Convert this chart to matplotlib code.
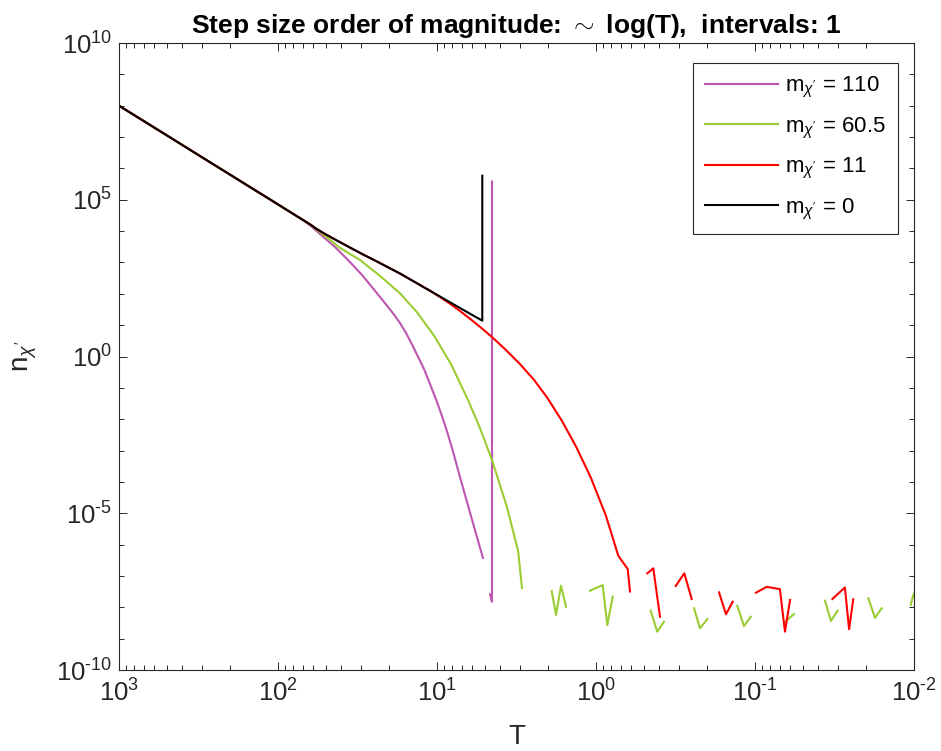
import numpy as np
import matplotlib
matplotlib.use("Agg")
import matplotlib.pyplot as plt
from matplotlib.ticker import FixedLocator, LogLocator, NullFormatter, FuncFormatter

plt.rcParams["font.family"] = ["Liberation Sans", "DejaVu Sans"]
plt.rcParams["mathtext.fontset"] = "custom"
plt.rcParams["mathtext.rm"] = "Liberation Sans"
plt.rcParams["mathtext.it"] = "Liberation Sans:italic"
plt.rcParams["mathtext.bf"] = "Liberation Sans:bold"

nan = np.nan

# shared high-T part (all masses coincide here)
T_common = [1000, 500, 300, 200, 150, 100, 80, 70]
n_common = [1.0e8, 1.13e7, 2.25e6, 6.3e5, 2.54e5, 7.1e4, 3.5e4, 2.3e4]

# m = 110
T_110 = T_common + [62, 54.4, 43.8, 36.3, 29.6, 24.5, 20.3, 18.64, 17.1, 15.67, 14.4,
                    12.07, 11.07, 10.0, 9.17, 8.53, 7.82, 7.17, 5.94, 5.14,
                    nan, 4.51, 4.51, 4.64]
n_110 = n_common + [1.45e4, 8.08e3, 3.11e3, 1.20e3, 398, 123, 37.9, 21.7, 11.7, 5.66, 2.50,
                    0.40, 0.133, 0.0354, 0.01015, 3.25e-3, 7.21e-4, 1.43e-4, 4.89e-6, 3.74e-7,
                    nan, 3.8e5, 1.5e-8, 2.6e-8]

# m = 60.5
T_605 = T_common + [62, 54.4, 40.7, 30.5, 22.8, 17.1, 13.4, 10.4, 8.17, 6.38,
                    5.37, 4.51, 3.63, 3.09, 2.92,
                    nan, 1.90, 1.785, 1.66, 1.544,
                    nan, 1.09, 0.908, 0.849, 0.785,
                    nan, 0.453, 0.412, 0.3735,
                    nan, 0.2418, 0.2218, 0.1995,
                    nan, 0.1292, 0.1173, 0.1064,
                    nan, 0.0648, 0.0569,
                    nan, 0.0363, 0.0333, 0.0302,
                    nan, 0.01938, 0.01759, 0.01596,
                    nan, 0.0105, 0.0101, 0.0095]
n_605 = n_common + [1.57e4, 9.36e3, 2.89e3, 1.20e3, 370, 104, 26.3, 4.51, 0.577, 0.041,
                    5.24e-3, 5.0e-4, 1.58e-5, 6.25e-7, 4.13e-8,
                    nan, 3.31e-8, 5.7e-9, 4.9e-8, 1.04e-8,
                    nan, 3.39e-8, 5.1e-8, 2.7e-9, 2.2e-8,
                    nan, 7.8e-9, 1.67e-9, 3.5e-9,
                    nan, 9.3e-9, 2.14e-9, 4.2e-9,
                    nan, 1.12e-8, 2.5e-9, 5.0e-9,
                    nan, 3.4e-9, 6.1e-9,
                    nan, 1.62e-8, 3.7e-9, 7.8e-9,
                    nan, 1.94e-8, 4.6e-9, 9.3e-9,
                    nan, 1.18e-8, 2.47e-8, 4.5e-8]

# m = 0 (black)
T_0 = T_common + [62, 58.5, 50.6, 43.8, 35.3, 29.6, 24.5, 20.6, 17.1, 12.8,
                  9.58, 7.17, 5.19, 5.19]
n_0 = n_common + [1.57e4, 1.26e4, 8.08e3, 5.40e3, 3.00e3, 1.86e3, 1.15e3, 726, 444, 191,
                  82.0, 35.2, 13.9, 5.85e5]

# m = 11
T_11 = T_common + [62, 58.5, 50.6, 43.8, 35.3, 29.6, 24.5, 20.6, 17.1, 12.8,
                   11.07, 9.58, 8.28, 7.17, 6.11, 5.21, 4.44, 3.74, 3.01, 2.45, 2.03,
                   1.636, 1.336, 1.075, 0.865, 0.724, 0.632, 0.611,
                   nan, 0.4757, 0.4362, 0.3958,
                   nan, 0.3152, 0.2784, 0.2501,
                   nan, 0.1684, 0.1522, 0.1381,
                   nan, 0.0986, 0.0844, 0.0697, 0.0648, 0.0602,
                   nan, 0.0326, 0.0272, 0.0256, 0.0241]
n_11 = n_common + [1.57e4, 1.26e4, 8.08e3, 5.40e3, 3.00e3, 1.86e3, 1.15e3, 726, 444, 191,
                   125, 79.1, 48.0, 28.3, 15.1, 7.82, 3.89, 1.73, 0.577, 0.178, 0.0492,
                   8.76e-3, 1.35e-3, 1.33e-4, 8.17e-6, 4.4e-7, 1.66e-7, 3.2e-8,
                   nan, 1.21e-7, 1.75e-7, 5.0e-9,
                   nan, 4.8e-8, 1.21e-7, 1.84e-8,
                   nan, 3.0e-8, 6.0e-9, 1.51e-8,
                   nan, 2.92e-8, 4.5e-8, 3.8e-8, 1.67e-9, 1.71e-8,
                   nan, 1.84e-8, 4.3e-8, 2.0e-9, 1.80e-8]

series = [
    (T_110, n_110, r"m$_{\chi'}$ = 110", "#BC56B0"),
    (T_605, n_605, r"m$_{\chi'}$ = 60.5", "#9ACD32"),
    (T_11, n_11, r"m$_{\chi'}$ = 11", "#FF0000"),
    (T_0, n_0, r"m$_{\chi'}$ = 0", "#000000"),
]


def pow_label(v, pos):
    e = int(round(np.log10(v)))
    s = str(e).replace("-", "\u2010")
    return r"$\mathregular{10^{%s}}$" % s


fig = plt.figure(figsize=(9.41, 7.51), dpi=100)
ax = fig.add_axes([119 / 941, 1 - 670 / 751, 795 / 941, 627 / 751])

for T, n, lab, col in series:
    ax.plot(T, n, color=col, linewidth=1.5, label=lab)

ax.set_xscale("log")
ax.set_yscale("log")
ax.set_xlim(1e3, 1e-2)
ax.set_ylim(1e-10, 1e10)

ax.yaxis.set_major_locator(FixedLocator([1e-10, 1e-5, 1e0, 1e5, 1e10]))
ax.yaxis.set_minor_locator(FixedLocator([10.0 ** k for k in range(-9, 10) if k % 5]))
ax.yaxis.set_minor_formatter(NullFormatter())
ax.xaxis.set_major_locator(LogLocator(base=10, numticks=20))
ax.xaxis.set_minor_locator(LogLocator(base=10, subs=np.arange(2, 10), numticks=20))
ax.xaxis.set_minor_formatter(NullFormatter())
ax.xaxis.set_major_formatter(FuncFormatter(pow_label))
ax.yaxis.set_major_formatter(FuncFormatter(pow_label))

gray = "#262626"
ax.tick_params(which="both", direction="in", top=True, right=True, colors=gray,
               labelsize=18.5, width=0.7)
ax.tick_params(which="major", length=6)
ax.tick_params(which="minor", length=3.5)
ax.tick_params(axis="x", which="major", pad=7)
ax.tick_params(axis="y", which="major", pad=5)
for s in ax.spines.values():
    s.set_color(gray)
    s.set_linewidth(0.8)

ax.set_title("Step size order of magnitude: $\\sim$ log(T),  intervals: 1",
             fontsize=19, fontweight="bold", pad=7)
ax.set_xlabel("T", fontsize=20, color=gray, labelpad=12)
ax.set_ylabel(r"n$_{\chi'}$", fontsize=20, color=gray, labelpad=12)

leg = ax.legend(loc="upper right", fontsize=16, handlelength=3.3,
                handletextpad=0.3, labelspacing=0.69, borderpad=0.55,
                borderaxespad=0, fancybox=False, framealpha=1, edgecolor=gray,
                bbox_to_anchor=(0.980, 0.968))
leg.get_frame().set_linewidth(0.8)

fig.savefig("out.png", dpi=100)
